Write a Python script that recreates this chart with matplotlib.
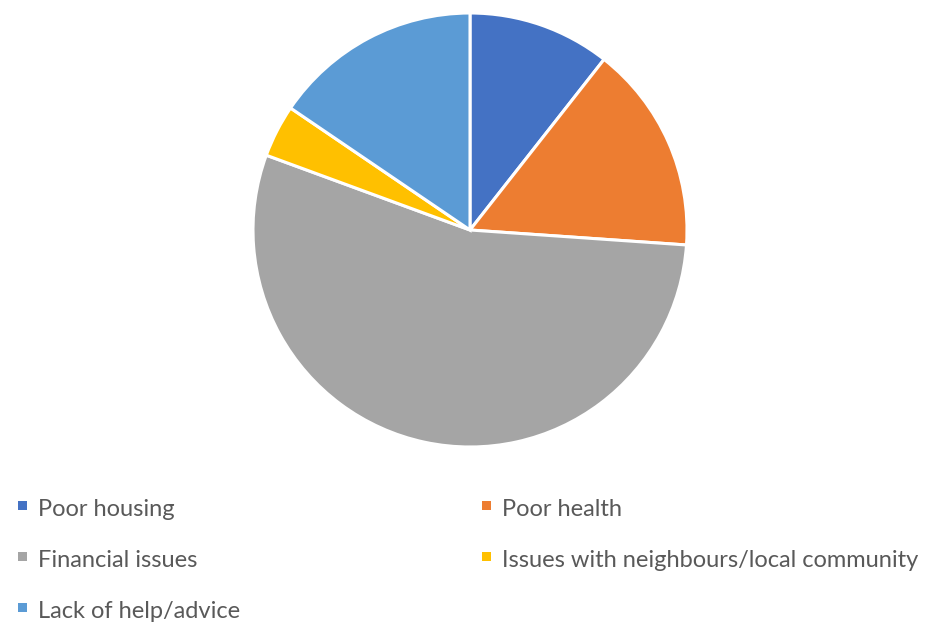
import matplotlib
matplotlib.use("Agg")
import matplotlib.pyplot as plt
from matplotlib.patches import Rectangle

categories = ["Poor housing", "Poor health", "Financial issues",
              "Issues with neighbours/local community", "Lack of help/advice"]
shares = [10.6, 15.5, 54.5, 3.9, 15.5]
colors = ["#4472C4", "#ED7D31", "#A5A5A5", "#FFC000", "#5B9BD5"]

plt.rcParams["font.family"] = ["Lato", "DejaVu Sans"]

W, H = 939, 623
fig = plt.figure(figsize=(W / 100, H / 100), dpi=100)

cx, cy, r = 470, 230, 217
ax = fig.add_axes([(cx - r) / W, (H - cy - r) / H, 2 * r / W, 2 * r / H])
wedges, _ = ax.pie(shares, colors=colors, startangle=90, counterclock=False,
                   wedgeprops=dict(edgecolor="white", linewidth=2.2))
ax.set_xlim(-1, 1)
ax.set_ylim(-1, 1)
ax.set_aspect("equal")

# Two-column legend, filled row by row (pixel positions from the top-left)
col_x = [18, 482]
row_y = [505, 556, 607]
box = 9
for i, (label, color) in enumerate(zip(categories, colors)):
    x0 = col_x[i % 2]
    yc = row_y[i // 2]
    fig.patches.append(Rectangle(((x0) / W, (H - yc - box / 2) / H), box / W, box / H,
                                 transform=fig.transFigure, facecolor=color,
                                 edgecolor="none"))
    fig.text((x0 + 20) / W, (H - yc - 11) / H, label, fontsize=17,
             color="#595959", ha="left", va="baseline")

fig.savefig("out.png", dpi=100, facecolor="white")
